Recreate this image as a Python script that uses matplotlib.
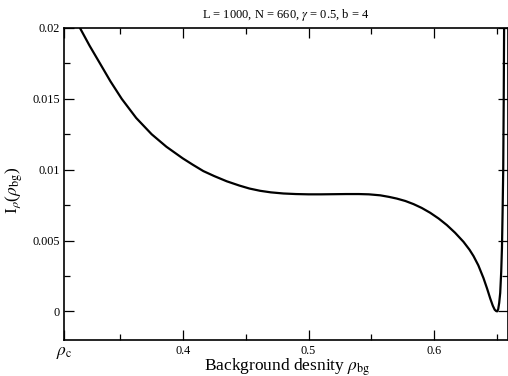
import numpy as np
import matplotlib
matplotlib.use('Agg')
import matplotlib.pyplot as plt

plt.rcParams['font.family'] = ['Liberation Serif', 'DejaVu Serif']
plt.rcParams['mathtext.fontset'] = 'stix'

# curve
rho_bg = [0.3183, 0.3260, 0.3342, 0.3425, 0.3515, 0.3630, 0.3753, 0.3870, 0.4000,
          0.4080, 0.4164, 0.4250, 0.4350, 0.4450, 0.4530, 0.4615, 0.4700, 0.4800,
          0.4900, 0.5000, 0.5100, 0.5200, 0.5300, 0.5400, 0.5480, 0.5570, 0.5640,
          0.5702, 0.5770, 0.5835, 0.5900, 0.5967, 0.6035, 0.6100, 0.6165, 0.6232,
          0.6280, 0.6312, 0.6350, 0.6391, 0.6420, 0.6445, 0.6465, 0.6480, 0.6492,
          0.6500, 0.6508, 0.6516, 0.6524, 0.6532, 0.6538, 0.6543, 0.6548, 0.6552,
          0.6555]
I_rho = [0.0200, 0.01874, 0.0175, 0.01624, 0.0150, 0.01365, 0.0125, 0.01162, 0.0108,
         0.01035, 0.0099, 0.00955, 0.00918, 0.00888, 0.00867, 0.00851, 0.00840, 0.00832,
         0.00828, 0.00826, 0.00826, 0.00827, 0.00828, 0.00828, 0.00826, 0.00819, 0.00808,
         0.00796, 0.00779, 0.00757, 0.00730, 0.00696, 0.00655, 0.00609, 0.00555, 0.00491,
         0.00435, 0.00390, 0.00325, 0.00235, 0.00160, 0.00090, 0.00040, 0.00012, 0.00002,
         0.0, 0.00015, 0.00060, 0.00130, 0.0028, 0.0045, 0.0070, 0.0100, 0.0150,
         0.0200]

rho_c = 0.3056
x_ticks = [rho_c, 0.4, 0.5, 0.6]
x_labels = [r'$\rho_{\rm c}$', '0.4', '0.5', '0.6']
y_ticks = [0, 0.005, 0.01, 0.015, 0.02]
y_labels = ['0', '0.005', '0.01', '0.015', '0.02']

fig = plt.figure(figsize=(5.08, 3.76), dpi=100)
ax = fig.add_axes([64 / 508, 36.3 / 376, 443.5 / 508, 311.7 / 376])

ax.plot(rho_bg, I_rho, color='black', lw=1.6, solid_joinstyle='round')

ax.set_xlim(rho_c, 0.6582)
ax.set_ylim(-0.002, 0.02)
ax.set_xticks(x_ticks)
ax.set_xticklabels(x_labels)
ax.set_xticks([0.35, 0.45, 0.55, 0.65], minor=True)
ax.set_yticks(y_ticks)
ax.set_yticklabels(y_labels)
ax.set_yticks([0.0025, 0.0075, 0.0125, 0.0175], minor=True)

ax.tick_params(which='both', direction='in', top=True, right=True, labelsize=8.8, width=0.9)
ax.tick_params(which='major', length=7)
ax.tick_params(which='minor', length=4)
ax.tick_params(axis='x', pad=4)
ax.tick_params(axis='y', pad=3)
ax.get_xticklabels()[0].set_fontsize(12.5)
for s in ax.spines.values():
    s.set_linewidth(1.2)

ax.set_xlabel(r'Background desnity $\rho_{\rm bg}$', fontsize=12.5)
ax.xaxis.set_label_coords(0.504, -0.052)
ax.set_ylabel(r'I$_\rho$($\rho_{\rm bg}$)', fontsize=12.5)
ax.yaxis.set_label_coords(-0.087, 0.48)
ax.set_title(r'L = 1000, N = 660, $\gamma$ = 0.5, b = 4', fontsize=9, pad=7)

fig.savefig('out.png', dpi=100)
